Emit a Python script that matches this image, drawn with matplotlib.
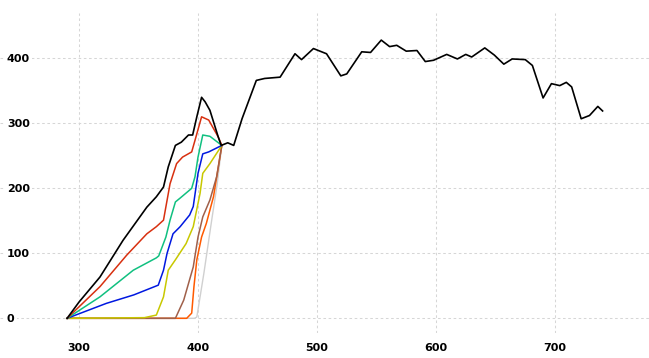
import matplotlib.pyplot as plt

plt.rcParams['font.family'] = ['Liberation Sans Narrow', 'DejaVu Sans Condensed', 'DejaVu Sans']
plt.rcParams['font.size'] = 8
plt.rcParams['font.weight'] = 'bold'

# curves (wavelength vs value)
black_x = [290, 300, 317.6, 337, 357, 365, 371, 375, 381, 386, 392, 395.5, 399, 403, 406, 410, 417,
           419.5, 425, 430, 437, 449, 456, 469, 481.5, 487, 497, 508, 520, 525, 537.6, 545, 554, 561,
           567, 575, 584, 591, 598, 609, 618, 625, 630, 641, 649, 657, 664, 675, 681, 690, 697, 704,
           709.5, 714, 722, 729, 736, 740]
black_y = [0, 25, 63.5, 120, 171, 187, 202, 233, 266, 271, 282, 282, 310, 340, 333, 320, 279,
           266, 270, 266, 307, 366, 369, 371, 407, 398, 415, 407, 373, 376, 410, 409, 428, 418,
           420, 411, 412, 395, 397, 406, 399, 406, 402, 416, 405, 391, 399, 398, 389, 339, 361, 358,
           363, 356, 307, 312, 326, 319]

red_x = [290, 317.6, 340, 357, 365, 371, 376.5, 382, 387, 394.7, 397.5, 403, 409, 417, 420]
red_y = [0, 48.7, 97, 130, 141, 151, 207, 238, 248, 256, 274, 310, 305, 279, 266]

green_x = [290, 317.6, 345.6, 365, 367, 373, 376.5, 381, 385, 394.7, 397.5, 400, 404, 410, 420]
green_y = [0, 33, 74, 93, 96, 125, 151, 179, 185, 200, 218, 248, 282, 280, 266]

blue_x = [290, 323, 346, 366.6, 371, 374, 379, 385, 393, 396, 400, 404, 409, 420]
blue_y = [0, 23, 36, 51, 74, 100, 130, 141, 159, 172, 223, 253, 256, 266]

yellow_x = [290, 355, 365, 371, 375, 381, 390, 396, 401.7, 404, 410, 420]
yellow_y = [0, 1, 5, 33, 74, 90, 115, 141, 192, 223, 238, 266]

brown_x = [290, 381, 388, 396, 400, 404, 410, 415.7, 420]
brown_y = [0, 0, 28, 79, 125, 156, 182, 218, 266]

orange_x = [290, 390.5, 394.7, 396.6, 399, 403, 407, 413, 420]
orange_y = [0, 0, 8, 49, 90, 125, 146, 187, 266]

gray_x = [290, 397, 399, 405, 411.5, 416, 420]
gray_y = [0, 0, 2, 70, 151, 205, 266]

xticks = [300, 400, 500, 600, 700]
yticks = [0, 100, 200, 300, 400]

fig = plt.figure(figsize=(6.49, 3.58), dpi=100)
ax = fig.add_axes([0, 25/358, 1, 320/358])

ax.plot(gray_x, gray_y, color='#d0d0d0', lw=1.0)
ax.plot(orange_x, orange_y, color='#ff5a00', lw=1.1)
ax.plot(brown_x, brown_y, color='#a0604a', lw=1.1)
ax.plot(yellow_x, yellow_y, color='#c8c800', lw=1.1)
ax.plot(blue_x, blue_y, color='#0018e0', lw=1.1)
ax.plot(green_x, green_y, color='#10c080', lw=1.1)
ax.plot(red_x, red_y, color='#d83010', lw=1.1)
ax.plot(black_x, black_y, color='black', lw=1.2)

ax.set_xlim(233.6, 779)
ax.set_ylim(-22.6, 469.7)
ax.set_xticks(xticks)
ax.set_yticks(yticks)
ax.grid(True, color='#d6d6d6', linestyle=(0, (2.5, 2.5)), lw=0.75)
for s in ax.spines.values():
    s.set_visible(False)

ax.tick_params(axis='both', length=0)
ax.tick_params(axis='x', pad=7)
ax.tick_params(axis='y', pad=-5)
for lbl in ax.get_yticklabels():
    lbl.set_horizontalalignment('left')
    lbl.set_bbox(dict(facecolor='white', edgecolor='none', pad=1.5))

plt.savefig('out.png', dpi=100)
